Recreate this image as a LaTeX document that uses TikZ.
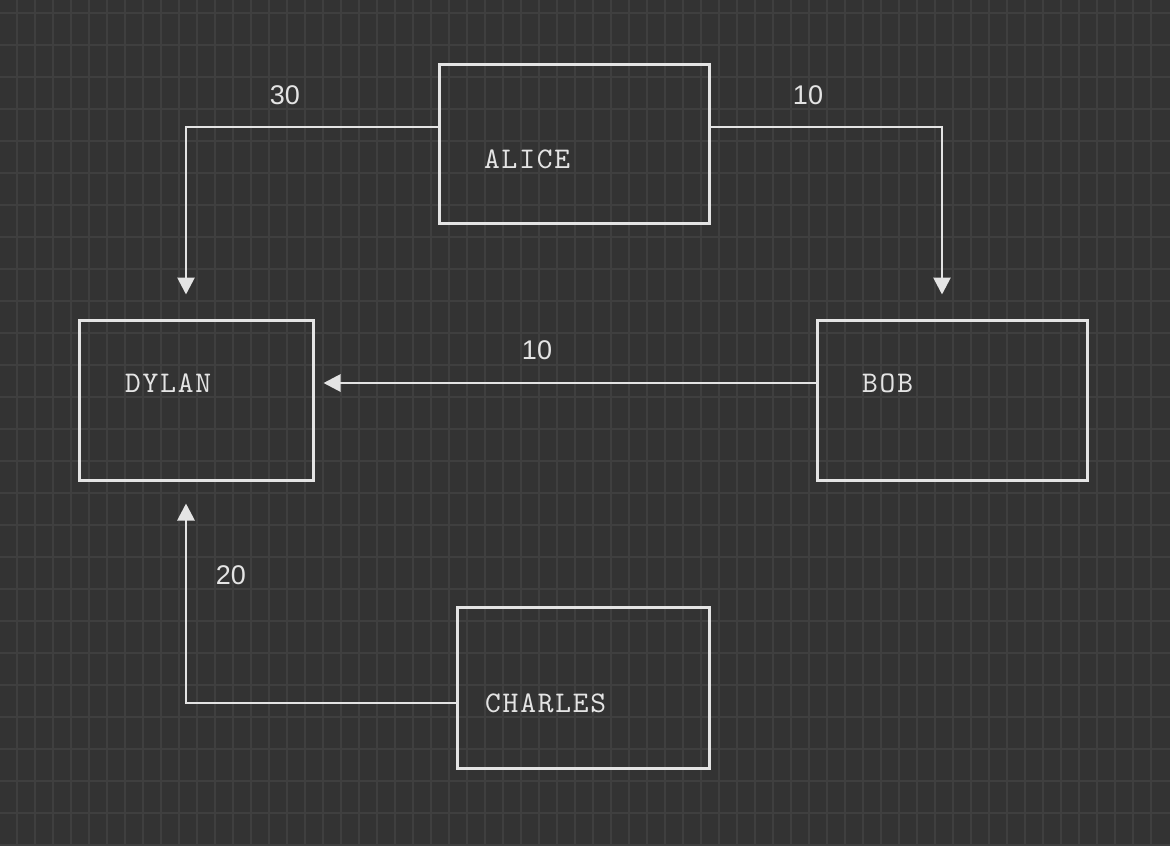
\documentclass[tikz,border=0pt]{standalone}
\usepackage{fontspec}
\usepackage{tikz}
\usetikzlibrary{arrows.meta, positioning, calc}
\newfontfamily\boxfont{lmmono10-regular}[Extension=.otf, LetterSpace=6]
\newfontfamily\weightfont{Liberation Sans}
\definecolor{canvasgray}{HTML}{333333}
\definecolor{gridgray}{HTML}{3F3F3F}
\definecolor{inkgray}{HTML}{E4E4E4}
\tikzset{
  person/.style={draw=inkgray, line width=3pt, inner sep=0pt},
  who/.style={anchor=west, text=inkgray, inner sep=0pt, font=\boxfont\fontsize{30}{31}\selectfont},
  weight/.style={text=inkgray, inner sep=0pt, font=\weightfont\fontsize{27}{28}\selectfont},
  link/.style={draw=inkgray, line width=2.8pt, -{Triangle[length=17pt,width=17pt]}},
}

\begin{document}
\begin{tikzpicture}[x=1pt, y=-1pt]
        % Canvas and grid
        \useasboundingbox (0,0) rectangle (1170,846);
        \fill[canvasgray] (0,0) rectangle (1170,846);
        \foreach \gx in {0,...,63} \draw[gridgray, line width=1.8pt] (17+18*\gx,0) -- (17+18*\gx,846);
        \foreach \gy in {0,...,26} \draw[gridgray, line width=1.8pt] (0,13+32*\gy) -- (1170,13+32*\gy);

        % People
        \node[person, minimum width=270pt, minimum height=159pt] (alice)   at (574,143.5) {};
        \node[person, minimum width=234pt, minimum height=160pt] (dylan)   at (196,400) {};
        \node[person, minimum width=270pt, minimum height=160pt] (bob)     at (952,400) {};
        \node[person, minimum width=252pt, minimum height=161pt] (charles) at (583,687.5) {};

        % Names
        \node[who] (alicename)   at (484,159) {ALICE};
        \node[who] (dylanname)   at (125,383) {DYLAN};
        \node[who] (bobname)     at (862,383) {BOB};
        \node[who] (charlesname) at (485,703) {CHARLES};

        % Transfers
        \draw[link, shorten >=24pt] ([yshift=16.5pt]alice.west) -| ([xshift=-10pt]dylan.north);
        \draw[link, shorten >=24pt] ([yshift=16.5pt]alice.east) -| ([xshift=-10pt]bob.north);
        \draw[link, shorten >=9pt]  ([yshift=17pt]bob.west) -- ([yshift=17pt]dylan.east);
        \draw[link, shorten >=22pt] ([yshift=-15.5pt]charles.west) -| ([xshift=-10pt]dylan.south);

        % Amounts
        \node[weight] (w30) at (285,95) {30};
        \node[weight] (w10a) at (808,95) {10};
        \node[weight] (w10b) at (537,350) {10};
        \node[weight] (w20) at (231,575) {20};
      \end{tikzpicture}
\end{document}
